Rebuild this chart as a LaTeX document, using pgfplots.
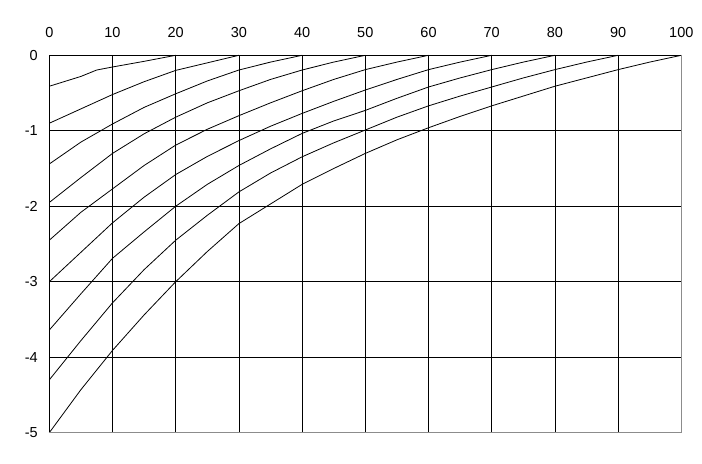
\documentclass[border=0pt]{standalone}
\usepackage{pgfplots}
\pgfplotsset{compat=1.18}
\usepackage{fontspec}
\setmainfont{Liberation Sans}
\definecolor{axgray}{HTML}{8C8C8C}
\begin{document}
\begin{tikzpicture}
\useasboundingbox (0,0) rectangle (702bp,464bp);
\begin{axis}[
  at={(49.3bp,31.3bp)}, anchor=south west,
  scale only axis, width=632bp, height=377.4bp,
  xmin=0, xmax=100, ymin=-5, ymax=0,
  axis x line*=top, axis y line*=left,
  axis line style={black, line width=0.8bp},
  xtick={0,10,...,100}, ytick={-5,-4,...,0},
  xticklabels={0,10,20,30,40,50,60,70,80,90,100},
  yticklabels={-5,-4,-3,-2,-1,0},
  major tick length=0pt,
  grid=major, major grid style={black, line width=0.8bp},
  ticklabel style={font=\fontsize{14.5bp}{17bp}\selectfont},
  xticklabel style={yshift=14bp},
  yticklabel style={xshift=-8bp},
  cycle list={{black, solid, mark=none}},
  every axis plot/.append style={line width=0.8bp, sharp plot},
  clip=false,
]
% curve ending at 20
\addplot coordinates {(0,-0.41) (5,-0.28) (7.5,-0.195) (10,-0.155) (15,-0.08) (20,0)};
% ending at 30
\addplot coordinates {(0,-0.90) (5,-0.71) (10,-0.52) (15,-0.35) (20,-0.20) (25,-0.10) (30,0)};
% ending at 40
\addplot coordinates {(0,-1.44) (5,-1.15) (10,-0.91) (15,-0.69) (20,-0.51) (25,-0.34) (30,-0.195) (35,-0.09) (40,0)};
% ending at 50
\addplot coordinates {(0,-1.95) (5,-1.62) (10,-1.30) (15,-1.04) (20,-0.82) (25,-0.63) (30,-0.47) (35,-0.32) (40,-0.195) (45,-0.09) (50,0)};
% ending at 60
\addplot coordinates {(0,-2.45) (5,-2.08) (10,-1.77) (15,-1.46) (20,-1.19) (25,-0.98) (30,-0.80) (35,-0.63) (40,-0.47) (45,-0.32) (50,-0.19) (55,-0.09) (60,0)};
% ending at 70
\addplot coordinates {(0,-3.0) (5,-2.61) (10,-2.22) (15,-1.88) (20,-1.58) (25,-1.34) (30,-1.13) (35,-0.94) (40,-0.77) (45,-0.61) (50,-0.46) (55,-0.32) (60,-0.19) (65,-0.09) (70,0)};
% ending at 80
\addplot coordinates {(0,-3.64) (5,-3.16) (10,-2.69) (15,-2.34) (20,-2.0) (25,-1.71) (30,-1.46) (35,-1.24) (40,-1.035) (45,-0.87) (50,-0.73) (55,-0.57) (60,-0.42) (65,-0.30) (70,-0.19) (75,-0.09) (80,0)};
% ending at 90
\addplot coordinates {(0,-4.30) (5,-3.78) (10,-3.28) (15,-2.84) (20,-2.45) (25,-2.12) (30,-1.81) (35,-1.56) (40,-1.345) (45,-1.16) (50,-0.99) (55,-0.82) (60,-0.67) (65,-0.54) (70,-0.42) (75,-0.30) (80,-0.19) (85,-0.09) (90,0)};
% ending at 100
\addplot coordinates {(0,-5.0) (5,-4.43) (10,-3.91) (15,-3.44) (20,-3.0) (25,-2.60) (30,-2.23) (35,-1.97) (40,-1.71) (45,-1.50) (50,-1.30) (55,-1.12) (60,-0.96) (65,-0.81) (70,-0.67) (75,-0.54) (80,-0.41) (85,-0.30) (90,-0.19) (95,-0.09) (100,0)};
\draw[axgray, line width=0.8bp] (rel axis cs:0,0) -- (rel axis cs:1,0) -- (rel axis cs:1,1);
\end{axis}
\end{tikzpicture}
\end{document}
